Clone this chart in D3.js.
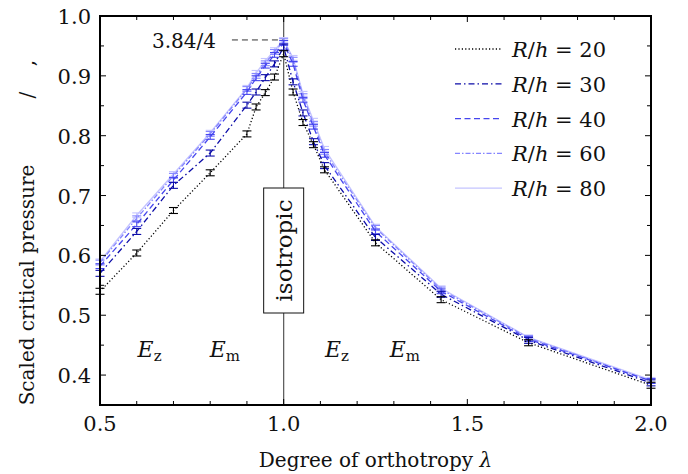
<!DOCTYPE html>
<html><head><meta charset="utf-8">
<script src="https://cdn.jsdelivr.net/npm/d3@7"></script>
<style>body{margin:0;background:#fff}</style>
</head><body><svg id="c" width="688" height="474" font-family="'DejaVu Serif', serif" fill="#111"></svg>
<script>
// degree of orthotropy values (left branch and reciprocal right branch)
const lambdas = [0.5,0.6,0.7,0.8,0.9,0.925,0.95,0.975,1.0,1.0256,1.0526,1.0811,1.1111,1.25,1.4286,1.6667,2.0];
const rh20 = [0.540,0.604,0.675,0.738,0.803,0.848,0.872,0.898,0.937,0.873,0.822,0.785,0.743,0.621,0.526,0.454,0.383];
const rh30 = [0.570,0.640,0.717,0.771,0.851,0.873,0.897,0.920,0.948,0.890,0.838,0.790,0.750,0.630,0.535,0.458,0.387];
const rh40 = [0.582,0.652,0.726,0.798,0.873,0.896,0.917,0.935,0.955,0.920,0.860,0.815,0.768,0.640,0.540,0.460,0.390];
const rh60 = [0.588,0.662,0.733,0.803,0.878,0.900,0.921,0.940,0.958,0.927,0.866,0.820,0.773,0.646,0.543,0.462,0.390];
const rh80 = [0.590,0.667,0.736,0.805,0.880,0.905,0.925,0.943,0.960,0.930,0.870,0.825,0.778,0.648,0.545,0.463,0.392];
const errHalf = [0.005,0.005,0.004,0.004,0.004];
const seriesLabels = ["20","30","40","60","80"];
const xTicks = [0.5,1.0,1.5,2.0];
const yTicks = [0.4,0.5,0.6,0.7,0.8,0.9,1.0];
const peakLabel = "3.84/4";
const peakValue = 0.96;
const regionLabels = [{sub:"z",x:0.635},{sub:"m",x:0.84},{sub:"z",x:1.145},{sub:"m",x:1.33}];
const regionY = 0.442;

const colors = ["#000000","#0c0ca8","#4646ee","#8585ff","#c4c4ff"];
const dashes = ["1.2,2.2","6,3,1.5,3","6,3.5","5,2,1.5,2",null];
const allSeries = [rh20,rh30,rh40,rh60,rh80];

const svg = d3.select("#c");
const L=100,R=651,T=16,B=405;
const x = d3.scaleLinear().domain([0.5,2.0]).range([L,R]);
const y = d3.scaleLinear().domain([0.35,1.0]).range([B,T]);
const FS = 20;

svg.append("line").attr("x1",x(1)).attr("x2",x(1)).attr("y1",T).attr("y2",B)
  .attr("stroke","#555").attr("stroke-width",1.2);

svg.append("line").attr("x1",x(0.9)-15).attr("x2",x(1)).attr("y1",y(peakValue)).attr("y2",y(peakValue))
  .attr("stroke","#333").attr("stroke-width",1).attr("stroke-dasharray","6,4");
svg.append("text").attr("x",x(0.9)-31).attr("y",y(peakValue)+8).attr("text-anchor","end")
  .attr("font-size",FS).text(peakLabel);

const line = d3.line().x((d,i)=>x(lambdas[i])).y(d=>y(d));
[4,3,2,1,0].forEach(s=>{
  const vals = allSeries[s];
  const p = svg.append("path").attr("d",line(vals)).attr("fill","none")
    .attr("stroke",colors[s]).attr("stroke-width",1.3);
  if(dashes[s]) p.attr("stroke-dasharray",dashes[s]);
  const g = svg.append("g").attr("stroke",colors[s]).attr("stroke-width",1.1);
  vals.forEach((v,i)=>{
    const cx=x(lambdas[i]), y0=y(v-errHalf[s]), y1=y(v+errHalf[s]);
    g.append("line").attr("x1",cx).attr("x2",cx).attr("y1",y0).attr("y2",y1);
    g.append("line").attr("x1",cx-4.5).attr("x2",cx+4.5).attr("y1",y0).attr("y2",y0);
    g.append("line").attr("x1",cx-4.5).attr("x2",cx+4.5).attr("y1",y1).attr("y2",y1);
  });
});

const bx=x(1), bw=40, byTop=188, byBot=313;
svg.append("rect").attr("x",bx-bw/2).attr("y",byTop).attr("width",bw).attr("height",byBot-byTop)
  .attr("fill","#fff").attr("stroke","#111").attr("stroke-width",1);
svg.append("text").attr("transform",`translate(${bx+8},${(byTop+byBot)/2}) rotate(-90)`)
  .attr("text-anchor","middle").attr("font-size",23).text("isotropic");

regionLabels.forEach(r=>{
  const t=svg.append("text").attr("x",x(r.x)).attr("y",y(regionY)+7).attr("text-anchor","middle").attr("font-size",22);
  t.append("tspan").attr("font-style","italic").text("E");
  t.append("tspan").attr("font-size",15).attr("dy",4).text(r.sub);
});

svg.append("rect").attr("x",L).attr("y",T).attr("width",R-L).attr("height",B-T)
  .attr("fill","none").attr("stroke","#000").attr("stroke-width",2);

const tk = svg.append("g").attr("stroke","#000").attr("stroke-width",1);
d3.range(0.5,2.0001,0.1).forEach(v=>{
  const major = xTicks.some(t=>Math.abs(t-v)<1e-6);
  const len = major?6:4;
  tk.append("line").attr("x1",x(v)).attr("x2",x(v)).attr("y1",B).attr("y2",B-len);
  tk.append("line").attr("x1",x(v)).attr("x2",x(v)).attr("y1",T).attr("y2",T+len);
});
d3.range(0.35,1.0001,0.05).forEach(v=>{
  const major = yTicks.some(t=>Math.abs(t-v)<1e-6);
  const len = major?6:4;
  tk.append("line").attr("x1",L).attr("x2",L+len).attr("y1",y(v)).attr("y2",y(v));
  tk.append("line").attr("x1",R).attr("x2",R-len).attr("y1",y(v)).attr("y2",y(v));
});
xTicks.forEach(v=>svg.append("text").attr("x",x(v)).attr("y",B+26).attr("text-anchor","middle")
  .attr("font-size",21).text(d3.format(".1f")(v)));
yTicks.forEach(v=>svg.append("text").attr("x",L-9).attr("y",y(v)+8).attr("text-anchor","end")
  .attr("font-size",21).text(d3.format(".1f")(v)));

const xt = svg.append("text").attr("x",(L+R)/2).attr("y",467).attr("text-anchor","middle").attr("font-size",FS);
xt.append("tspan").text("Degree of orthotropy ");
xt.append("tspan").attr("font-style","italic").text("λ");
svg.append("text").attr("transform","translate(34,285) rotate(-90)").attr("text-anchor","middle")
  .attr("font-size",FS).text("Scaled critical pressure");
svg.append("text").attr("transform","translate(34,95) rotate(-90)").attr("text-anchor","middle")
  .attr("font-size",FS).text("/");
svg.append("text").attr("transform","translate(34,63) rotate(-90)").attr("text-anchor","middle")
  .attr("font-size",FS).text(",");

seriesLabels.forEach((lab,i)=>{
  const ly = 49 + i*34.8;
  const l = svg.append("line").attr("x1",455).attr("x2",502).attr("y1",ly).attr("y2",ly)
    .attr("stroke",colors[i]).attr("stroke-width",1.3);
  if(dashes[i]) l.attr("stroke-dasharray",dashes[i]);
  const t = svg.append("text").attr("x",512).attr("y",ly+8).attr("font-size",21);
  t.append("tspan").attr("font-style","italic").text("R");
  t.append("tspan").text("/");
  t.append("tspan").attr("font-style","italic").text("h");
  t.append("tspan").text(" = "+lab);
});
</script></body></html>
